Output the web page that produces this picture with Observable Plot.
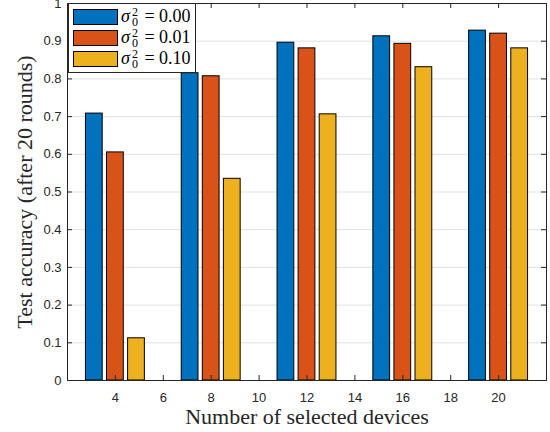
<!DOCTYPE html>
<html>
<head>
<meta charset="utf-8">
<script src="https://cdn.jsdelivr.net/npm/d3@7"></script>
<script src="https://cdn.jsdelivr.net/npm/@observablehq/plot@0.6"></script>
<style>
  html, body { margin: 0; padding: 0; background: #fff; }
  #wrap { position: relative; width: 550px; height: 432px; }
  #legend {
    position: absolute; left: 68px; top: 3px;
    background: #fff; border: 1px solid #262626;
    padding: 2px 4px 3px 4px;
    font-family: "Liberation Serif", serif; font-size: 18px; color: #000;
  }
  .row { display: flex; align-items: center; height: 21px; }
  .sw { display: inline-block; width: 43px; height: 14px; border: 1px solid #000; margin-right: 3px; }
  .ss { display: inline-flex; flex-direction: column; font-size: 12px; line-height: 10px; vertical-align: middle; margin: 0 2px 0 2px; font-style: normal; }
  .lbl { white-space: nowrap; display: inline-flex; align-items: center; }
</style>
</head>
<body>
<div id="wrap"><div id="chart"></div><div id="legend"></div></div>
<script>
const devices = [4, 8, 12, 16, 20];
const sigmaLabels = ["0.00", "0.01", "0.10"];
const acc000 = [0.708, 0.815, 0.896, 0.913, 0.928];
const acc001 = [0.605, 0.807, 0.881, 0.893, 0.920];
const acc010 = [0.112, 0.535, 0.706, 0.831, 0.881];
const colors = ["#0072BD", "#D95319", "#EDB120"];
const xTicks = [4, 6, 8, 10, 12, 14, 16, 18, 20];
const yTicks = [0, 0.1, 0.2, 0.3, 0.4, 0.5, 0.6, 0.7, 0.8, 0.9, 1];
const xLabel = "Number of selected devices";
const yLabel = "Test accuracy (after 20 rounds)";

const seriesValues = [acc000, acc001, acc010];
const groupStep = 0.88, barW = 0.7;
const data = [];
seriesValues.forEach((vals, s) => {
  vals.forEach((v, i) => {
    const c = devices[i] + (s - 1) * groupStep;
    data.push({series: sigmaLabels[s], x1: c - barW / 2, x2: c + barW / 2, value: v});
  });
});

const W = 550, H = 432, mL = 67, mR = 4, mT = 3, mB = 52;
const plotW = W - mL - mR, plotH = H - mT - mB;
const ink = "#262626";
const tickFont = {fontSize: 13, fontFamily: "Liberation Sans, Arial, sans-serif", fill: ink};
const titleFont = {fontSize: 22, fontFamily: "Liberation Serif, serif", fill: ink, textAnchor: "middle", lineAnchor: "middle"};

const chart = Plot.plot({
  width: W, height: H,
  marginLeft: mL, marginRight: mR, marginTop: mT, marginBottom: mB,
  x: {domain: [2, 22]},
  y: {domain: [0, 1]},
  color: {domain: sigmaLabels, range: colors},
  style: {background: "#fff", overflow: "visible"},
  marks: [
    Plot.gridY(yTicks, {stroke: "#000", strokeOpacity: 0.12}),
    Plot.rectY(data, {x1: "x1", x2: "x2", y1: 0, y2: "value", fill: "series", stroke: "#000", strokeWidth: 1}),
    Plot.frame({stroke: ink}),
    Plot.tickX(xTicks, {x: d => d, stroke: ink, insetTop: plotH - 5}),
    Plot.tickX(xTicks, {x: d => d, stroke: ink, insetBottom: plotH - 5}),
    Plot.tickY(yTicks, {y: d => d, stroke: ink, insetRight: plotW - 5}),
    Plot.tickY(yTicks, {y: d => d, stroke: ink, insetLeft: plotW - 5}),
    Plot.axisX(xTicks, {tickSize: 0, tickPadding: 12, label: null, ...tickFont}),
    Plot.axisY(yTicks, {tickSize: 0, tickPadding: 6, label: null, tickFormat: d => String(+d.toFixed(1)), ...tickFont}),
    Plot.text([xLabel], {text: d => d, frameAnchor: "bottom", dy: 36, ...titleFont}),
    Plot.text([yLabel], {text: d => d, frameAnchor: "left", dx: -43, rotate: -90, ...titleFont})
  ]
});
document.getElementById("chart").appendChild(chart);

const legend = document.getElementById("legend");
sigmaLabels.forEach((lab, i) => {
  const row = document.createElement("div");
  row.className = "row";
  row.innerHTML = `<span class="sw" style="background:${colors[i]}"></span>` +
    `<span class="lbl"><i>σ</i><span class="ss"><span>2</span><span>0</span></span>&nbsp;=&nbsp;${lab}</span>`;
  legend.appendChild(row);
});
</script>
</body>
</html>
